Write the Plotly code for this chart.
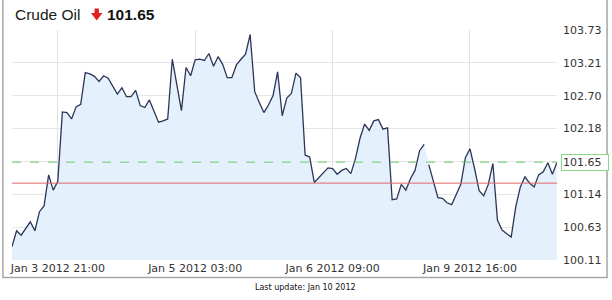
import plotly.graph_objects as go

# ---- data ----
title_text = "Crude Oil"
last_price = 101.65
prev_close = 101.32
prices = [
    100.32, 100.57, 100.50, 100.60, 100.71, 100.57, 100.87, 100.96, 101.45, 101.21,
    101.35, 102.44, 102.43, 102.33, 102.52, 102.56, 103.06, 103.04, 103.00, 102.92,
    103.01, 102.97, 102.84, 102.72, 102.82, 102.68, 102.68, 102.78, 102.54, 102.51,
    102.63, 102.46, 102.28, 102.30, 102.33, 103.27, 102.86, 102.46, 103.14, 103.01,
    103.26, 103.27, 103.25, 103.36, 103.16, 103.31, 103.19, 102.98, 102.98, 103.18,
    103.27, 103.35, 103.66, 102.76, 102.59, 102.43, 102.55, 102.70, 103.07, 102.38,
    102.66, 102.73, 103.05, 102.98, 101.76, 101.73, 101.33, 101.41, 101.49, 101.56,
    101.55, 101.46, 101.52, 101.55, 101.47, 101.71, 102.03, 102.25, 102.15, 102.30,
    102.32, 102.17, 102.19, 101.06, 101.07, 101.30, 101.21, 101.39, 101.52, 101.83,
    101.93, 101.61, 101.35, 101.09, 101.08, 101.01, 100.98, 101.13, 101.30, 101.72,
    101.86, 101.55, 101.20, 101.12, 101.30, 101.63, 100.74, 100.58, 100.53, 100.47,
    100.95, 101.26, 101.42, 101.32, 101.26, 101.45, 101.50, 101.64, 101.46, 101.65,
]
gap_after = 90  # line is broken between this point and the next
x_tick_positions = [10, 40, 70, 100]
x_tick_labels = ["Jan 3 2012 21:00", "Jan 5 2012 03:00", "Jan 6 2012 09:00", "Jan 9 2012 16:00"]
y_min, y_max, n_yticks = 100.11, 103.73, 8
footer_text = "Last update: Jan 10 2012"

# ---- derived ----
idx = list(range(len(prices)))
seg1_x, seg1_y = idx[:gap_after + 1], prices[:gap_after + 1]
seg2_x, seg2_y = idx[gap_after + 1:], prices[gap_after + 1:]
step = (y_max - y_min) / (n_yticks - 1)
y_tickvals = [y_min + k * step for k in range(n_yticks)]
y_ticktext = ["" if abs(v - last_price) < 0.05 else f"{v:.2f}" for v in y_tickvals]

LINE = "#2c3558"
FILL = "#e4f1fc"
FONT = "DejaVu Sans"

fig = go.Figure()
# area fill (continuous)
fig.add_trace(go.Scatter(
    x=idx, y=prices, mode="lines", line=dict(width=0, color=FILL),
    fill="tozeroy", fillcolor=FILL, hoverinfo="skip", showlegend=False))
# price line, broken at the gap
for sx, sy in [(seg1_x, seg1_y), (seg2_x, seg2_y)]:
    fig.add_trace(go.Scatter(
        x=sx, y=sy, mode="lines", line=dict(color=LINE, width=1.3),
        hoverinfo="skip", showlegend=False))

# plot geometry in pixels (for paper conversions of decorations)
L, R, T, B, W, H = 10, 52, 30, 40, 612, 300
PW, PH = W - L - R, H - T - B
def px(x): return (x - L) / PW
def py(y): return (H - B - y) / PH

shapes = [
    dict(type="line", xref="paper", x0=0, x1=1, yref="y", y0=prev_close, y1=prev_close,
         line=dict(color="#e06666", width=1)),
    dict(type="line", xref="paper", x0=0, x1=1, yref="y", y0=last_price, y1=last_price,
         line=dict(color="#66cc66", width=1, dash="dash")),
    # outer frame
    dict(type="rect", xref="paper", yref="paper", x0=px(0.8), x1=px(610.5), y0=py(277.5), y1=py(-2),
         line=dict(color="#a6a6a6", width=1.5), layer="below"),
    # red down arrow
    dict(type="path", xref="paper", yref="paper", fillcolor="#e02020", line=dict(width=0),
         path=(f"M {px(93.3)} {py(8.5)} L {px(97.7)} {py(8.5)} L {px(97.7)} {py(13)} "
               f"L {px(101.3)} {py(13)} L {px(95.5)} {py(20.5)} L {px(89.7)} {py(13)} "
               f"L {px(93.3)} {py(13)} Z")),
]

annotations = [
    dict(xref="paper", yref="paper", x=px(11), y=py(14.5), xanchor="left", yanchor="middle",
         text=title_text, showarrow=False,
         font=dict(family="Liberation Sans, Arial", size=15.5, color="#1a1a1a")),
    dict(xref="paper", yref="paper", x=px(104), y=py(14.5), xanchor="left", yanchor="middle",
         text=f"<b>{last_price:.2f}</b>", showarrow=False,
         font=dict(family="Liberation Sans, Arial", size=15.5, color="#111111")),
    dict(xref="paper", yref="y", x=px(564.5), y=last_price, xanchor="left", yanchor="middle",
         text=f"{last_price:.2f}", showarrow=False, bordercolor="#88d888", borderwidth=1,
         borderpad=1, bgcolor="white", width=44,
         align="left", font=dict(family=FONT, size=11, color="#333333")),
    dict(xref="paper", yref="paper", x=px(306), y=py(287), xanchor="center", yanchor="middle",
         text=footer_text, showarrow=False, font=dict(family=FONT, size=8, color="#111111")),
]

fig.update_layout(
    width=W, height=H, margin=dict(l=L, r=R, t=T, b=B),
    paper_bgcolor="white", plot_bgcolor="white",
    shapes=shapes, annotations=annotations,
    xaxis=dict(range=[0, len(prices) - 1], tickvals=x_tick_positions, ticktext=x_tick_labels,
               showgrid=True, gridcolor="#dbe2ea", gridwidth=1, zeroline=False, showline=False,
               ticks="", tickfont=dict(family=FONT, size=11, color="#333333")),
    yaxis=dict(range=[y_min, y_max], tickvals=y_tickvals, ticktext=y_ticktext, side="right",
               showgrid=True, gridcolor="#e6e6e6", gridwidth=1, zeroline=False, showline=False,
               ticks="", ticklabelstandoff=5,
               tickfont=dict(family=FONT, size=11, color="#333333")),
)

fig.write_html("out.html")
